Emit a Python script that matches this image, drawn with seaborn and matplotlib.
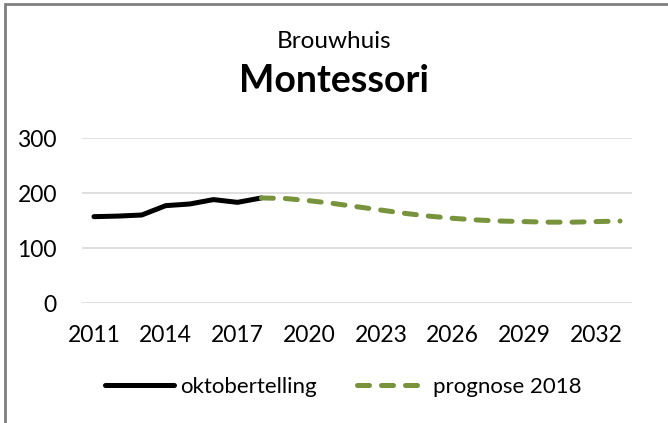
import matplotlib
matplotlib.use("Agg")
import matplotlib.pyplot as plt
import matplotlib.patches as mpatches
import numpy as np
import pandas as pd
import seaborn as sns

# ---------------------------------------------------------------------------
# Data
# ---------------------------------------------------------------------------

count_years = [2011, 2012, 2013, 2014, 2015, 2016, 2017, 2018]
counts = [157, 158, 160, 177, 180, 188, 183, 191]

forecast_years = list(range(2018, 2034))
forecast = [191, 190, 186, 181, 175, 169, 163, 158,
            154, 151, 149, 148, 147, 147, 148, 149]

x_ticks = [2011, 2014, 2017, 2020, 2023, 2026, 2029, 2032]
y_ticks = [0, 100, 200, 300]

subtitle = "Brouwhuis"
title = "Montessori"
label_counts = "oktobertelling"
label_forecast = "prognose 2018"

BLACK = "#000000"
GREEN = "#77933C"
GRID = "#D9D9D9"

# ---------------------------------------------------------------------------
# Plot
# ---------------------------------------------------------------------------

sns.set_theme(style="white")
plt.rcParams["font.family"] = ["Lato", "DejaVu Sans"]
plt.rcParams["text.color"] = BLACK

df_counts = pd.DataFrame({"jaar": count_years, "aantal": counts})
df_forecast = pd.DataFrame({"jaar": forecast_years, "aantal": forecast})

fig = plt.figure(figsize=(6.68, 4.23), dpi=100)
ax = fig.add_axes([82 / 668, 1 - 303 / 423, 550 / 668, 165 / 423])

lw = 3.6
sns.lineplot(data=df_counts, x="jaar", y="aantal", ax=ax, color=BLACK,
             linewidth=lw, solid_capstyle="round", solid_joinstyle="round",
             label=label_counts, zorder=3)
sns.lineplot(data=df_forecast, x="jaar", y="aantal", ax=ax, color=GREEN,
             linewidth=lw, dashes=False, label=label_forecast, zorder=3)
fc_line = ax.get_lines()[-1]
fc_line.set_dashes((2.4, 2.4))
fc_line.set_dash_capstyle("round")

ax.set_xlim(2010.5, 2033.5)
ax.set_ylim(0, 300)
ax.set_xticks(x_ticks)
ax.set_yticks(y_ticks)
ax.set_xticklabels([str(t) for t in x_ticks])
ax.set_xlabel("")
ax.set_ylabel("")
ax.tick_params(axis="both", length=0, labelsize=16.5, colors=BLACK)
ax.tick_params(axis="x", pad=16)
ax.tick_params(axis="y", pad=18)
for s in ax.spines.values():
    s.set_visible(False)
ax.grid(axis="y", color=GRID, linewidth=1.2)
ax.set_axisbelow(True)

ax.get_legend().remove()
handles, labels = ax.get_legend_handles_labels()
handles[0].set_solid_capstyle("round")
handles[1].set_dashes((2.4, 2.4))
handles[1].set_dash_capstyle("round")
fig.legend(handles, labels, loc="center",
           bbox_to_anchor=(343 / 668, 1 - 387 / 423),
           ncol=2, frameon=False, fontsize=16, handlelength=3.1,
           handletextpad=0.3, columnspacing=1.8)

fig.text(0.5, 1 - 42 / 423, subtitle, ha="center", va="center",
         fontsize=17.5, color=BLACK)
fig.text(0.5, 1 - 81 / 423, title, ha="center", va="center", fontsize=27,
         fontweight="bold", color=BLACK)

# chart-area border (only left and top visible in the crop)
fig.patches.append(mpatches.Rectangle((5 / 668, -0.1), 1.2, 1 - 4 / 423 + 0.1,
                                      transform=fig.transFigure, fill=False,
                                      edgecolor="#7F7F7F", linewidth=2))

fig.savefig("out.png", dpi=100)
